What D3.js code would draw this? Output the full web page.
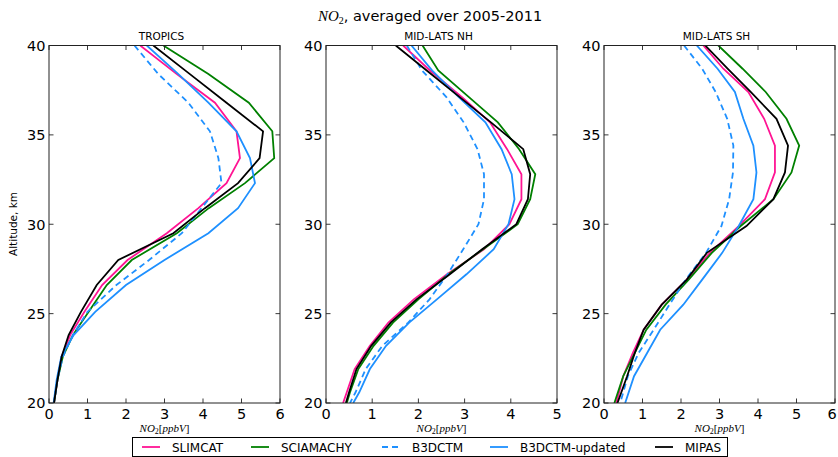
<!DOCTYPE html>
<html>
<head>
<meta charset="utf-8">
<script src="https://cdn.jsdelivr.net/npm/d3@7"></script>
<style>
  html, body { margin: 0; padding: 0; background: #fff; }
  svg { display: block; }
  text { font-family: "DejaVu Sans", sans-serif; fill: #000; }
  .math { font-family: "Liberation Serif", "DejaVu Serif", serif; font-style: italic; }
</style>
</head>
<body>
<svg id="chart" width="838" height="457"></svg>
<script>
// NO2 profiles (ppbV) against altitude (km), three latitude bands
const regions = ["TROPICS", "MID-LATS NH", "MID-LATS SH"];
const seriesNames = ["SLIMCAT", "SCIAMACHY", "B3DCTM", "B3DCTM-updated", "MIPAS"];

const altTropics = [40, 38.4, 36.8, 35.2, 33.7, 32.3, 30.9, 29.5, 28.0, 26.6, 25.1, 23.8, 22.6, 21.3, 20.0];
const slimcatTropics   = [2.37, 3.32, 4.31, 4.87, 4.96, 4.61, 3.88, 3.06, 2.04, 1.38, 0.92, 0.55, 0.33, 0.22, 0.13];
const sciamachyTropics = [2.97, 4.14, 5.19, 5.80, 5.85, 5.09, 4.15, 3.32, 2.15, 1.50, 1.03, 0.62, 0.36, 0.22, 0.13];
const b3dctmTropics    = [2.22, 2.84, 3.62, 4.18, 4.40, 4.48, 3.96, 3.45, 2.60, 1.75, 1.00, 0.62, 0.36, 0.22, 0.13];
const b3dctmUpdTropics = [2.54, 3.36, 4.14, 4.87, 5.22, 5.35, 4.91, 4.14, 3.00, 2.00, 1.20, 0.64, 0.32, 0.20, 0.12];
const mipasTropics     = [2.71, 3.66, 4.61, 5.56, 5.47, 4.91, 4.05, 3.23, 1.80, 1.24, 0.83, 0.51, 0.33, 0.22, 0.13];

const altNH = [40, 38.6, 37.1, 35.7, 34.2, 32.8, 31.4, 30.0, 28.6, 27.2, 25.8, 24.5, 23.2, 21.9, 20.6, 20.0];
const slimcatNH   = [1.67, 2.25, 2.95, 3.55, 3.92, 4.23, 4.23, 3.97, 3.42, 2.62, 1.90, 1.35, 0.95, 0.62, 0.45, 0.37];
const sciamachyNH = [2.09, 2.43, 3.10, 3.72, 4.18, 4.53, 4.42, 4.15, 3.40, 2.65, 2.00, 1.45, 1.03, 0.70, 0.52, 0.45];
const b3dctmNH    = [1.75, 2.08, 2.61, 2.98, 3.28, 3.42, 3.42, 3.30, 2.97, 2.63, 2.24, 1.78, 1.22, 0.86, 0.64, 0.52];
const b3dctmUpdNH = [1.85, 2.30, 2.88, 3.45, 3.80, 4.02, 4.08, 3.95, 3.63, 3.04, 2.40, 1.80, 1.30, 0.95, 0.72, 0.59];
const mipasNH     = [1.51, 2.18, 2.90, 3.57, 4.27, 4.42, 4.37, 4.12, 3.38, 2.68, 1.96, 1.40, 0.98, 0.66, 0.50, 0.43];

const altSH = [40, 38.7, 37.4, 35.9, 34.4, 32.9, 31.4, 29.9, 28.4, 26.9, 25.5, 24.1, 22.8, 21.5, 20.0];
const slimcatSH   = [2.58, 3.10, 3.75, 4.16, 4.44, 4.44, 4.18, 3.50, 2.75, 2.15, 1.50, 1.03, 0.75, 0.50, 0.32];
const sciamachySH = [2.97, 3.60, 4.20, 4.74, 5.07, 4.87, 4.40, 3.55, 2.80, 2.20, 1.60, 1.10, 0.80, 0.50, 0.27];
const b3dctmSH    = [2.08, 2.55, 2.90, 3.20, 3.36, 3.35, 3.25, 3.05, 2.65, 2.12, 1.70, 1.29, 0.90, 0.62, 0.42];
const b3dctmUpdSH = [2.41, 2.95, 3.40, 3.62, 3.88, 3.96, 3.88, 3.50, 3.07, 2.55, 2.06, 1.46, 1.12, 0.78, 0.55];
const mipasSH     = [2.63, 3.21, 3.81, 4.48, 4.78, 4.70, 4.40, 3.70, 2.67, 2.15, 1.50, 1.03, 0.80, 0.60, 0.35];

const xTicksWide = [0, 1, 2, 3, 4, 5, 6];
const xTicksNH = [0, 1, 2, 3, 4, 5];
const yTicks = [20, 25, 30, 35, 40];

// series styling, in legend order
const styles = {
  "SLIMCAT":        { color: "#ff1493", dash: null },
  "SCIAMACHY":      { color: "#008000", dash: null },
  "B3DCTM":         { color: "#1e90ff", dash: "6,4" },
  "B3DCTM-updated": { color: "#1e90ff", dash: null },
  "MIPAS":          { color: "#000000", dash: null }
};

const panelData = [
  { title: regions[0], alt: altTropics, xMax: 6, xTicks: xTicksWide,
    values: [slimcatTropics, sciamachyTropics, b3dctmTropics, b3dctmUpdTropics, mipasTropics] },
  { title: regions[1], alt: altNH, xMax: 5, xTicks: xTicksNH,
    values: [slimcatNH, sciamachyNH, b3dctmNH, b3dctmUpdNH, mipasNH] },
  { title: regions[2], alt: altSH, xMax: 6, xTicks: xTicksWide,
    values: [slimcatSH, sciamachySH, b3dctmSH, b3dctmUpdSH, mipasSH] }
];

const svg = d3.select("#chart");
const panelLeft = [49, 326, 604];
const panelW = 231;
const plotTop = 45.5, plotBottom = 403;
const tickLen = 4.5;

// Figure title
const title = svg.append("text")
  .attr("x", 430).attr("y", 21)
  .attr("text-anchor", "middle")
  .style("font-size", "14.5px");
title.append("tspan").attr("class", "math").style("font-size", "15px").text("NO");
title.append("tspan").attr("class", "math").style("font-style", "normal")
  .style("font-size", "10px").attr("dy", 3).text("2");
title.append("tspan").attr("dy", -3).text(", averaged over 2005-2011");

// y axis label
svg.append("text")
  .attr("transform", "translate(17,224) rotate(-90)")
  .attr("text-anchor", "middle")
  .style("font-size", "10.5px")
  .text("Altitude, km");

const y = d3.scaleLinear().domain([20, 40]).range([plotBottom, plotTop]);

panelData.forEach((p, i) => {
  const x0 = panelLeft[i];
  const x = d3.scaleLinear().domain([0, p.xMax]).range([x0, x0 + panelW]);
  const g = svg.append("g");

  const clipId = "clip" + i;
  svg.append("clipPath").attr("id", clipId)
    .append("rect").attr("x", x0).attr("y", plotTop).attr("width", panelW).attr("height", plotBottom - plotTop);

  // profiles
  const line = d3.line().x(d => x(d[0])).y(d => y(d[1]));
  const lines = g.append("g").attr("clip-path", `url(#${clipId})`);
  seriesNames.forEach((name, k) => {
    const pts = p.values[k].map((v, j) => [v, p.alt[j]]);
    lines.append("path")
      .attr("d", line(pts))
      .attr("fill", "none")
      .attr("stroke", styles[name].color)
      .attr("stroke-width", 1.8)
      .attr("stroke-linejoin", "miter")
      .attr("stroke-dasharray", styles[name].dash);
  });

  // ticks pointing inwards on all four sides
  const ticks = g.append("g").attr("stroke", "#222").attr("stroke-width", 0.9);
  p.xTicks.forEach(t => {
    ticks.append("line").attr("x1", x(t)).attr("x2", x(t)).attr("y1", plotBottom).attr("y2", plotBottom - tickLen);
    ticks.append("line").attr("x1", x(t)).attr("x2", x(t)).attr("y1", plotTop).attr("y2", plotTop + tickLen);
  });
  yTicks.forEach(t => {
    ticks.append("line").attr("x1", x0).attr("x2", x0 + tickLen).attr("y1", y(t)).attr("y2", y(t));
    ticks.append("line").attr("x1", x0 + panelW).attr("x2", x0 + panelW - tickLen).attr("y1", y(t)).attr("y2", y(t));
  });

  // frame
  g.append("rect")
    .attr("x", x0).attr("y", plotTop).attr("width", panelW).attr("height", plotBottom - plotTop)
    .attr("fill", "none").attr("stroke", "#222").attr("stroke-width", 1);

  // tick labels (the last one on the right-hand panel sits against the page edge)
  p.xTicks.forEach(t => {
    g.append("text").attr("x", Math.min(x(t), 832)).attr("y", 418.5)
      .attr("text-anchor", "middle").style("font-size", "14.5px").text(t);
  });
  yTicks.forEach(t => {
    g.append("text").attr("x", x0 - 3.5).attr("y", y(t) + 5.3)
      .attr("text-anchor", "end").style("font-size", "14.5px").text(t);
  });

  // panel title
  g.append("text").attr("x", x0 + panelW / 2 - 3).attr("y", 39.5)
    .attr("text-anchor", "middle").style("font-size", "10.5px").text(p.title);

  // x axis label: NO2[ppbV]
  const xl = g.append("text").attr("x", x0 + panelW / 2).attr("y", 432)
    .attr("text-anchor", "middle").style("font-size", "11px");
  xl.append("tspan").attr("class", "math").text("NO");
  xl.append("tspan").attr("class", "math").style("font-style", "normal")
    .style("font-size", "8px").attr("dy", 2).text("2");
  xl.append("tspan").attr("class", "math").style("font-style", "normal").attr("dy", -2).text("[");
  xl.append("tspan").attr("class", "math").text("ppbV");
  xl.append("tspan").attr("class", "math").style("font-style", "normal").text("]");
});

// legend
const legend = svg.append("g");
legend.append("rect")
  .attr("x", 132.5).attr("y", 437.5).attr("width", 595).attr("height", 19)
  .attr("fill", "#fff").attr("stroke", "#000").attr("stroke-width", 1);
const legendLineX = [142, 251, 382, 490, 655];
seriesNames.forEach((name, k) => {
  const lx = legendLineX[k];
  legend.append("line")
    .attr("x1", lx).attr("x2", lx + 18).attr("y1", 447).attr("y2", 447)
    .attr("stroke", styles[name].color).attr("stroke-width", 1.8)
    .attr("stroke-dasharray", styles[name].dash);
  legend.append("text").attr("x", lx + 30).attr("y", 451.5)
    .style("font-size", "12px").text(name);
});
</script>
</body>
</html>
